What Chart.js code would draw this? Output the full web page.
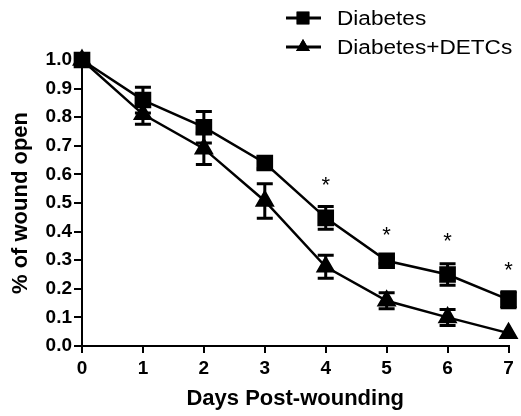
<!DOCTYPE html>
<html>
<head>
<meta charset="utf-8">
<script src="https://cdn.jsdelivr.net/npm/chart.js@4.4.1/dist/chart.umd.min.js"></script>
<style>
  html, body { margin: 0; padding: 0; background: #fff; }
  #wrap { width: 521px; height: 416px; }
</style>
</head>
<body>
<div id="wrap"><canvas id="grafico"></canvas></div>
<script>
// dados
const days = [0, 1, 2, 3, 4, 5, 6, 7];
const diabetes = [1.0, 0.86, 0.765, 0.64, 0.448, 0.298, 0.25, 0.162];
const diabetesErr = [0, 0.045, 0.055, 0.02, 0.04, 0.01, 0.038, 0.028];
const detcs = [1.0, 0.81, 0.69, 0.507, 0.277, 0.158, 0.10, 0.045];
const detcsErr = [0, 0.035, 0.055, 0.06, 0.04, 0.028, 0.028, 0];
const starDays = [4, 5, 6, 7];
const starValues = [0.575, 0.40, 0.378, 0.277];
const yTicks = [0, 0.1, 0.2, 0.3, 0.4, 0.5, 0.6, 0.7, 0.8, 0.9, 1.0];

const fonte = "'Liberation Sans', Arial, sans-serif";

function toPoints(ys) {
  return days.map((d, i) => ({ x: d, y: ys[i] }));
}

// plugin que desenha as barras de erro
const errorBars = {
  id: "errorBars",
  afterDatasetsDraw(chart) {
    const ctx = chart.ctx;
    const xs = chart.scales.x;
    const ys = chart.scales.y;
    const sets = [[diabetes, diabetesErr], [detcs, detcsErr]];
    ctx.save();
    ctx.strokeStyle = "#000";
    ctx.lineWidth = 3;
    sets.forEach(([vals, errs]) => {
      for (let i = 0; i < days.length; i++) {
        if (!errs[i]) continue;
        const px = xs.getPixelForValue(days[i]);
        const top = ys.getPixelForValue(vals[i] + errs[i]);
        const bot = ys.getPixelForValue(vals[i] - errs[i]);
        ctx.beginPath();
        ctx.moveTo(px, top);
        ctx.lineTo(px, bot);
        ctx.moveTo(px - 8, top);
        ctx.lineTo(px + 8, top);
        ctx.moveTo(px - 8, bot);
        ctx.lineTo(px + 8, bot);
        ctx.stroke();
      }
    });
    ctx.restore();
  }
};

// asteriscos de significancia
const stars = {
  id: "stars",
  afterDatasetsDraw(chart) {
    const ctx = chart.ctx;
    ctx.save();
    ctx.fillStyle = "#000";
    ctx.font = "22px " + fonte;
    ctx.textAlign = "center";
    ctx.textBaseline = "middle";
    for (let i = 0; i < starDays.length; i++) {
      const px = chart.scales.x.getPixelForValue(starDays[i]);
      const py = chart.scales.y.getPixelForValue(starValues[i]);
      ctx.fillText("*", px, py + 4);
    }
    ctx.restore();
  }
};

// legenda desenhada a mao (linha + marcador)
const legendaCustom = {
  id: "legendaCustom",
  afterDraw(chart) {
    const ctx = chart.ctx;
    const items = [
      { label: "Diabetes", style: "rect", r: 9, y: 18 },
      { label: "Diabetes+DETCs", style: "triangle", r: 8, y: 47 }
    ];
    ctx.save();
    items.forEach(it => {
      ctx.strokeStyle = "#000";
      ctx.lineWidth = 3;
      ctx.beginPath();
      ctx.moveTo(286, it.y);
      ctx.lineTo(321, it.y);
      ctx.stroke();
      ctx.fillStyle = "#000";
      Chart.helpers.drawPoint(ctx, { pointStyle: it.style, radius: it.r, borderWidth: 0 }, 303, it.y);
      ctx.fill();
      // texto um pouco esticado na horizontal, como na figura
      ctx.save();
      ctx.translate(337, it.y + 1);
      ctx.scale(1.13, 1);
      ctx.font = "20px " + fonte;
      ctx.textBaseline = "middle";
      ctx.fillText(it.label, 0, 0);
      ctx.restore();
    });
    ctx.restore();
  }
};

const config = {
  type: "line",
  data: {
    datasets: [
      {
        label: "Diabetes",
        data: toPoints(diabetes),
        borderColor: "#000",
        backgroundColor: "#000",
        borderWidth: 2.5,
        pointStyle: "rect",
        pointRadius: 10,
        pointHoverRadius: 10,
        clip: false
      },
      {
        label: "Diabetes+DETCs",
        data: toPoints(detcs),
        borderColor: "#000",
        backgroundColor: "#000",
        borderWidth: 2.5,
        pointStyle: "triangle",
        pointRadius: 9,
        pointHoverRadius: 9,
        clip: false
      }
    ]
  },
  options: {
    responsive: true,
    maintainAspectRatio: false,
    animation: false,
    layout: { padding: { top: 60, right: 11, left: 0, bottom: 0 } },
    plugins: {
      legend: { display: false },
      tooltip: { enabled: false }
    },
    scales: {
      x: {
        type: "linear",
        min: 0,
        max: 7,
        afterFit(scale) { scale.height = 70; },
        afterBuildTicks(scale) { scale.ticks = days.map(v => ({ value: v })); },
        grid: { display: true, drawOnChartArea: false, drawTicks: true, tickLength: 7, color: "#000", lineWidth: 2 },
        border: { display: true, color: "#000", width: 2 },
        ticks: {
          color: "#000",
          padding: 4,
          font: { family: fonte, size: 19, weight: "bold" }
        },
        title: {
          display: true,
          text: "Days Post-wounding",
          color: "#000",
          padding: { top: 6 },
          font: { family: fonte, size: 22, weight: "bold" }
        }
      },
      y: {
        min: 0,
        max: 1,
        afterFit(scale) { scale.width = 82; },
        afterBuildTicks(scale) { scale.ticks = yTicks.map(v => ({ value: v })); },
        grid: { display: true, drawOnChartArea: false, drawTicks: true, tickLength: 8, color: "#000", lineWidth: 2 },
        border: { display: true, color: "#000", width: 2 },
        ticks: {
          color: "#000",
          padding: 2,
          callback: v => v.toFixed(1),
          font: { family: fonte, size: 19, weight: "bold" }
        },
        title: {
          display: true,
          text: "% of wound open",
          color: "#000",
          padding: { top: 8, bottom: 2 },
          font: { family: fonte, size: 22, weight: "bold" }
        }
      }
    }
  },
  plugins: [errorBars, stars, legendaCustom]
};

let grafico = new Chart(document.getElementById("grafico"), config);
</script>
</body>
</html>
